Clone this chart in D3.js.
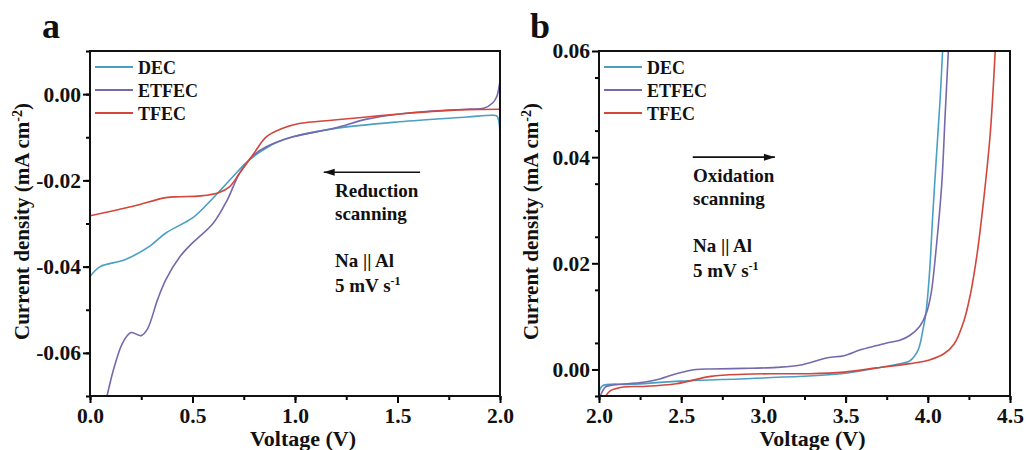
<!DOCTYPE html>
<html lang="en">
  <head>
    <meta charset="utf-8">
    <title>LSV curves</title>
    <script type="text/javascript" src="https://d3js.org/d3.v7.min.js"></script>
    <style>
      body { margin: 0; background: #fff; }
      text { font-family: "Times New Roman", "Liberation Serif", serif; font-weight: bold; fill: #111; }
      .tick text { font-size: 21.5px; }
      .xTitle { font-size: 22px; }
      .yTitle { font-size: 21px; }
      .legend { font-size: 18px; }
      .note { font-size: 19px; }
      .panel { font-size: 36px; }
    </style>
  </head>
  <body>
    <svg id="chart"></svg>
    <script type="text/javascript">

    // DATA  (voltage V, current density mA cm-2)
    const seriesNames = ['DEC', 'ETFEC', 'TFEC'];
    const seriesColors = ['#4a9fc4', '#7569ad', '#d2463c'];

    // panel a, reduction scan
    const redDEC = [[0,-0.0423],[0.05,-0.0400],[0.17,-0.0384],[0.29,-0.0353],[0.37,-0.0322],[0.50,-0.0287],
      [0.57,-0.0256],[0.63,-0.0226],[0.70,-0.0190],[0.76,-0.0160],[0.83,-0.0134],[0.91,-0.0112],[0.99,-0.0099],
      [1.19,-0.0080],[1.51,-0.0064],[1.84,-0.0053],[1.96,-0.0049],[1.985,-0.0051],[1.995,-0.0065],[2.0,-0.0095]];
    const redETFEC = [[0.083,-0.0700],[0.12,-0.0630],[0.16,-0.0576],[0.20,-0.0553],[0.25,-0.0560],[0.28,-0.0545],
      [0.33,-0.0476],[0.37,-0.0430],[0.44,-0.0376],[0.50,-0.0345],[0.60,-0.0300],[0.67,-0.0245],[0.73,-0.0183],
      [0.80,-0.0141],[0.86,-0.0122],[0.99,-0.0099],[1.19,-0.0079],[1.35,-0.0058],[1.51,-0.0046],[1.67,-0.0039],
      [1.84,-0.0035],[1.92,-0.0033],[1.965,-0.0020],[1.985,-0.0005],[1.995,0.0016],[2.0,0.0030]];
    const redTFEC = [[0,-0.0282],[0.21,-0.0260],[0.37,-0.0240],[0.44,-0.0238],[0.54,-0.0236],[0.63,-0.0228],
      [0.68,-0.0215],[0.73,-0.0183],[0.80,-0.0137],[0.86,-0.0099],[0.94,-0.0079],[1.02,-0.0068],[1.19,-0.0060],
      [1.35,-0.0053],[1.51,-0.0046],[1.67,-0.0040],[1.84,-0.0036],[2.0,-0.0035]];

    // panel b, oxidation scan
    const oxDEC = [[2.0,-0.0046],[2.02,-0.0031],[2.2,-0.0028],[2.5,-0.0022],[3.0,-0.0016],[3.5,-0.0007],
      [3.75,0.0006],[3.85,0.0012],[3.89,0.0016],[3.94,0.0036],[3.97,0.0074],[3.99,0.0110],[4.01,0.0180],
      [4.03,0.0290],[4.05,0.0390],[4.075,0.0510],[4.09,0.0600]];
    const oxETFEC = [[2.0,-0.0055],[2.04,-0.0033],[2.07,-0.0030],[2.27,-0.0024],[2.37,-0.0018],[2.47,-0.0008],
      [2.59,0.0000],[2.68,0.0001],[2.88,0.0002],[3.08,0.0004],[3.22,0.0008],[3.39,0.0022],[3.49,0.0026],
      [3.59,0.0037],[3.69,0.0045],[3.75,0.0050],[3.83,0.0055],[3.89,0.0064],[3.95,0.0081],[3.99,0.0105],
      [4.02,0.0143],[4.05,0.0225],[4.085,0.0350],[4.105,0.0476],[4.125,0.0600]];
    const oxTFEC = [[2.03,-0.0055],[2.07,-0.0040],[2.15,-0.0033],[2.27,-0.0032],[2.47,-0.0027],[2.68,-0.0013],
      [2.88,-0.0009],[3.08,-0.0008],[3.28,-0.0008],[3.49,-0.0005],[3.69,0.0003],[3.89,0.0011],[4.01,0.0018],
      [4.10,0.0030],[4.16,0.0048],[4.22,0.0092],[4.26,0.0143],[4.30,0.0218],[4.34,0.0320],[4.38,0.0445],[4.41,0.0600]];

    const aXTicks = [0, 0.5, 1.0, 1.5, 2.0];
    const aYTicks = [0, -0.02, -0.04, -0.06];
    const bXTicks = [2.0, 2.5, 3.0, 3.5, 4.0, 4.5];
    const bYTicks = [0, 0.02, 0.04, 0.06];

    // DIMENSIONS
    const width = 1027, height = 450;
    const svg = d3.select('#chart').attr('width', width).attr('height', height);

    function drawPanel(opt) {
      const x = d3.scaleLinear().domain(opt.xDomain).range([opt.left, opt.right]);
      const y = d3.scaleLinear().domain(opt.yDomain).range([opt.bottom, opt.top]);
      const g = svg.append('g');
      const clipId = 'clip-' + opt.letter;

      g.append('clipPath').attr('id', clipId)
        .append('rect')
        .attr('x', opt.left).attr('y', opt.top)
        .attr('width', opt.right - opt.left).attr('height', opt.bottom - opt.top);

      // minor ticks
      const xMinor = d3.range(opt.xDomain[0], opt.xDomain[1] + 1e-9, opt.xStep / 2);
      const yMinor = d3.range(opt.yDomain[0], opt.yDomain[1] + 1e-9, opt.yStep / 2);
      g.append('g').attr('transform', `translate(0,${opt.bottom})`)
        .call(d3.axisBottom(x).tickValues(xMinor).tickSize(4).tickFormat(''))
        .call(a => a.select('.domain').remove())
        .call(a => a.selectAll('line').attr('stroke-width', 2));
      g.append('g').attr('transform', `translate(${opt.left},0)`)
        .call(d3.axisLeft(y).tickValues(yMinor).tickSize(4).tickFormat(''))
        .call(a => a.select('.domain').remove())
        .call(a => a.selectAll('line').attr('stroke-width', 2));

      // major ticks
      g.append('g').attr('transform', `translate(0,${opt.bottom})`)
        .call(d3.axisBottom(x).tickValues(opt.xTicks).tickSize(7).tickPadding(5).tickFormat(d3.format('.1f')))
        .call(a => a.select('.domain').remove())
        .call(a => a.selectAll('line').attr('stroke-width', 2));
      g.append('g').attr('transform', `translate(${opt.left},0)`)
        .call(d3.axisLeft(y).tickValues(opt.yTicks).tickSize(7).tickPadding(2)
          .tickFormat(d => d3.format('.2f')(d).replace('−', '-')))
        .call(a => a.select('.domain').remove())
        .call(a => a.selectAll('line').attr('stroke-width', 2));

      // curves
      const line = d3.line().x(d => x(d[0])).y(d => y(d[1])).curve(d3.curveCatmullRom.alpha(0.5));
      opt.series.forEach((s, i) => {
        g.append('path')
          .datum(s)
          .attr('d', line)
          .attr('clip-path', `url(#${clipId})`)
          .attr('fill', 'none')
          .attr('stroke', seriesColors[i])
          .attr('stroke-width', 1.6);
      });

      // frame
      g.append('rect')
        .attr('x', opt.left).attr('y', opt.top)
        .attr('width', opt.right - opt.left).attr('height', opt.bottom - opt.top)
        .attr('fill', 'none').attr('stroke', '#111').attr('stroke-width', 2);

      // legend
      seriesNames.forEach((name, i) => {
        const ly = opt.top + 16 + i * 23;
        g.append('line')
          .attr('x1', opt.left + 5).attr('x2', opt.left + 43)
          .attr('y1', ly).attr('y2', ly)
          .attr('stroke', seriesColors[i]).attr('stroke-width', 2);
        g.append('text').attr('class', 'legend')
          .attr('x', opt.left + 48).attr('y', ly + 6.5).text(name);
      });

      // axis titles
      g.append('text').attr('class', 'xTitle')
        .attr('x', (opt.left + opt.right) / 2 + 8).attr('y', 446)
        .attr('text-anchor', 'middle').text('Voltage (V)');
      const yt = g.append('text').attr('class', 'yTitle')
        .attr('text-anchor', 'middle')
        .attr('transform', `translate(${opt.left - 61},${(opt.top + opt.bottom) / 2 - 2}) rotate(-90)`);
      yt.append('tspan').text('Current density (mA cm');
      yt.append('tspan').attr('baseline-shift', 'super').attr('font-size', '14px').text('-2');
      yt.append('tspan').text(')');

      // panel letter
      g.append('text').attr('class', 'panel')
        .attr('x', opt.letterX).attr('y', 38).text(opt.letter);

      // arrow and notes
      const ay = y(opt.arrowY);
      g.append('line')
        .attr('x1', x(opt.arrowFrom)).attr('x2', x(opt.arrowTo))
        .attr('y1', ay).attr('y2', ay)
        .attr('stroke', '#111').attr('stroke-width', 1.6);
      const dir = opt.arrowTo > opt.arrowFrom ? 1 : -1;
      const tipX = x(opt.arrowTo);
      g.append('path')
        .attr('d', `M${tipX},${ay} L${tipX - dir * 11},${ay - 3.5} L${tipX - dir * 11},${ay + 3.5} Z`)
        .attr('fill', '#111');

      opt.notes.forEach(n => {
        const t = g.append('text').attr('class', 'note')
          .attr('x', opt.noteX).attr('y', ay + n.dy);
        t.append('tspan').text(n.text);
        if (n.sup) {
          t.append('tspan').attr('baseline-shift', 'super').attr('font-size', '12px').text(n.sup);
        }
      });
    }

    const noteText = (first) => [
      { text: first, dy: 25 },
      { text: 'scanning', dy: 48 },
      { text: 'Na || Al', dy: 95 },
      { text: '5 mV s', sup: '-1', dy: 120 }
    ];

    drawPanel({
      letter: 'a', letterX: 42,
      left: 90, right: 500, top: 51, bottom: 396,
      xDomain: [0, 2], yDomain: [-0.07, 0.01], xStep: 0.5, yStep: 0.02,
      xTicks: aXTicks, yTicks: aYTicks,
      series: [redDEC, redETFEC, redTFEC],
      arrowFrom: 1.61, arrowTo: 1.14, arrowY: -0.0181,
      noteX: 335,
      notes: noteText('Reduction')
    });

    drawPanel({
      letter: 'b', letterX: 530,
      left: 599, right: 1010, top: 51, bottom: 396,
      xDomain: [2, 4.5], yDomain: [-0.005, 0.06], xStep: 0.5, yStep: 0.02,
      xTicks: bXTicks, yTicks: bYTicks,
      series: [oxDEC, oxETFEC, oxTFEC],
      arrowFrom: 2.57, arrowTo: 3.07, arrowY: 0.0400,
      noteX: 693,
      notes: noteText('Oxidation')
    });

    </script>
  </body>
</html>
